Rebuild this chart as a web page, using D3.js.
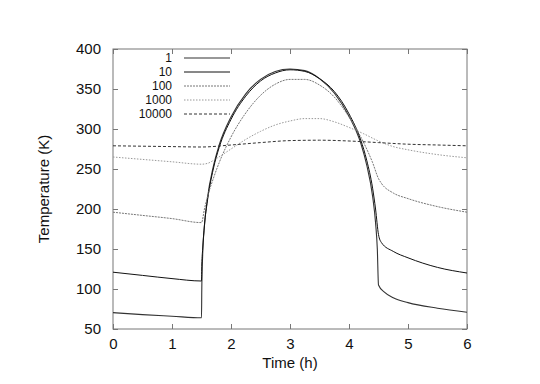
<!DOCTYPE html>
<html lang="en">
<head>
<meta charset="utf-8">
<title>Temperature vs time</title>
<script src="https://d3js.org/d3.v7.min.js"></script>
<style>
  body { margin: 0; background: #fff; }
  text { font-family: "Liberation Sans", Arial, sans-serif; fill: #111; }
  .frame { fill: none; stroke: #777; stroke-width: 1px; }
  .curve { fill: none; }
</style>
</head>
<body>
<script>

var w = 540;
var h = 384;

// Legend labels
var seriesNames = ["1", "10", "100", "1000", "10000"];

var xTicks = [0, 1, 2, 3, 4, 5, 6];
var yTicks = [50, 100, 150, 200, 250, 300, 350, 400];

// time (h) and temperature (K) for each series
var t1 = [0, 0.5, 1, 1.5, 1.505, 1.52, 1.55, 1.6, 1.7, 1.8, 2, 2.25, 2.5, 2.75, 3, 3.25, 3.5, 3.75, 4, 4.2, 4.3, 4.4, 4.45, 4.48, 4.5, 4.6, 4.75, 5, 5.5, 6];
var s1 = [70.5, 68, 66, 64, 100, 143, 179, 213, 253, 280, 315, 344, 362, 372, 375, 373, 363, 345, 316, 282, 255, 216, 183, 150, 105, 96, 89, 83, 76, 71];

var t10 = [0, 0.5, 1, 1.5, 1.505, 1.52, 1.55, 1.6, 1.7, 1.8, 2, 2.25, 2.5, 2.75, 3, 3.25, 3.5, 3.75, 4, 4.2, 4.3, 4.4, 4.45, 4.5, 4.55, 4.75, 5, 5.5, 6];
var s10 = [121, 117, 113, 110, 130, 150, 180, 210, 250, 277, 312, 341, 360, 370, 374, 372, 363, 347, 319, 286, 261, 226, 200, 168, 158, 147, 139, 127, 120];

var t100 = [0, 0.5, 1, 1.5, 1.55, 1.6, 1.7, 1.8, 2, 2.25, 2.5, 2.75, 3, 3.25, 3.5, 3.75, 4, 4.2, 4.3, 4.4, 4.5, 4.55, 4.75, 5, 5.5, 6];
var s100 = [196, 192, 188, 183, 200, 215, 238, 258, 290, 320, 342, 356, 362, 362, 355, 340, 315, 290, 275, 258, 238, 232, 220, 213, 203, 196];

var t1000 = [0, 0.5, 1, 1.5, 1.6, 1.75, 2, 2.25, 2.5, 2.75, 3, 3.25, 3.5, 3.75, 4, 4.25, 4.5, 4.75, 5, 5.5, 6];
var s1000 = [265, 262, 259, 256, 257, 263, 275, 287, 297, 305, 310, 313, 313, 309, 302, 294, 285, 278, 274, 268, 264];

var t10000 = [0, 0.5, 1, 1.5, 2, 2.5, 3, 3.5, 4, 4.5, 5, 5.5, 6];
var s10000 = [279, 278.5, 278, 277.5, 280, 283, 285.5, 286, 285, 283, 281, 280, 279];

var times = [t1, t10, t100, t1000, t10000];
var values = [s1, s10, s100, s1000, s10000];

var colors = ["#333", "#111", "#777", "#999", "#333"];
var dashes = [null, null, "2,1", "1.5,1.5", "3,2"];
var widths = [1.1, 1, 1, 1, 1];

var margin = {left: 113, right: 73, top: 49, bottom: 55};

var svg = d3.select("body")
    .append("svg")
    .attr("width", w)
    .attr("height", h);

var x = d3.scaleLinear().domain([0, 6]).range([margin.left, w - margin.right]);
var y = d3.scaleLinear().domain([50, 400]).range([h - margin.bottom, margin.top]);

// axes with inward ticks, mirrored top/right
svg.append("g")
    .attr("transform", "translate(0," + y(50) + ")")
    .call(d3.axisBottom(x).tickValues(xTicks).tickFormat(d3.format("d"))
        .tickSizeInner(-5).tickSizeOuter(0).tickPadding(9))
    .call(function (g) {
        g.select(".domain").remove();
        g.selectAll("line").attr("stroke", "#777");
        g.selectAll("text").style("font-size", "15px");
    });
svg.append("g")
    .attr("transform", "translate(0," + y(400) + ")")
    .call(d3.axisTop(x).tickValues(xTicks).tickSizeInner(-5).tickSizeOuter(0).tickFormat(""))
    .call(function (g) {
        g.select(".domain").remove();
        g.selectAll("line").attr("stroke", "#777");
    });
svg.append("g")
    .attr("transform", "translate(" + x(0) + ",0)")
    .call(d3.axisLeft(y).tickValues(yTicks).tickFormat(d3.format("d"))
        .tickSizeInner(-5).tickSizeOuter(0).tickPadding(12))
    .call(function (g) {
        g.select(".domain").remove();
        g.selectAll("line").attr("stroke", "#777");
        g.selectAll("text").style("font-size", "15px");
    });
svg.append("g")
    .attr("transform", "translate(" + x(6) + ",0)")
    .call(d3.axisRight(y).tickValues(yTicks).tickSizeInner(-5).tickSizeOuter(0).tickFormat(""))
    .call(function (g) {
        g.select(".domain").remove();
        g.selectAll("line").attr("stroke", "#777");
    });

svg.append("rect")
    .attr("class", "frame")
    .attr("x", x(0))
    .attr("y", y(400))
    .attr("width", x(6) - x(0))
    .attr("height", y(50) - y(400));

// curves
var line = d3.line()
    .x(function (d) { return x(d[0]); })
    .y(function (d) { return y(d[1]); })
    .curve(d3.curveMonotoneX);

seriesNames.forEach(function (name, i) {
    var pts = times[i].map(function (t, j) { return [t, values[i][j]]; });
    svg.append("path")
        .attr("class", "curve")
        .attr("d", line(pts))
        .attr("stroke", colors[i])
        .attr("stroke-width", widths[i])
        .attr("stroke-dasharray", dashes[i]);
});

// legend
var legend = svg.append("g");
seriesNames.forEach(function (name, i) {
    var ly = 58 + i * 14;
    legend.append("text")
        .attr("x", 172)
        .attr("y", ly)
        .attr("dy", "0.35em")
        .attr("text-anchor", "end")
        .style("font-size", "12px")
        .text(name);
    legend.append("line")
        .attr("x1", 184).attr("x2", 230)
        .attr("y1", ly).attr("y2", ly)
        .attr("stroke", colors[i])
        .attr("stroke-width", widths[i])
        .attr("stroke-dasharray", dashes[i]);
});

// axis titles
svg.append("text")
    .attr("x", (x(0) + x(6)) / 2)
    .attr("y", 368)
    .attr("text-anchor", "middle")
    .style("font-size", "15px")
    .text("Time (h)");

svg.append("text")
    .attr("transform", "translate(49," + (y(225)) + ") rotate(-90)")
    .attr("text-anchor", "middle")
    .style("font-size", "15px")
    .text("Temperature (K)");

</script>
</body>
</html>
